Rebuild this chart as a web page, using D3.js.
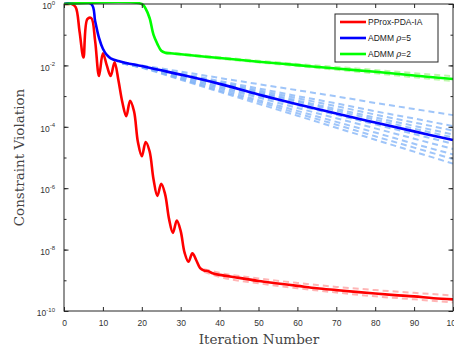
<!DOCTYPE html>
<html><head><meta charset="utf-8">
<script src="https://cdn.jsdelivr.net/npm/d3@7"></script>
<style>body{margin:0;background:#fff}svg{display:block}</style>
</head><body>
<script>
// ---- data ----
const xTicks = [0,10,20,30,40,50,60,70,80,90,100];
const yTickExps = [0,-2,-4,-6,-8,-10];
const seriesNames = ["PProx-PDA-IA","ADMM \u03c1=5","ADMM \u03c1=2"];

const redIter = [0,1,2,3,4,5,6,7,8,9,10,11,12,13,14,15,16,17,18,19,20,21,22,23,24,25,26,27,28,29,30,31,32,33,34,35,36,37,38,40,45,50,55,60,65,70,75,80,85,90,95,100];
const redVal = [1,1,1,0.79,0.126,1.8e-2,0.32,0.35,6.3e-2,4.5e-3,2.5e-2,1e-2,4.5e-3,1.26e-2,3.2e-3,6.3e-4,2.2e-4,7e-4,3.2e-4,3.2e-5,1.1e-5,3.2e-5,1.6e-5,2e-6,5.6e-7,1.4e-6,6.3e-7,1e-7,3.5e-8,8.9e-8,4e-8,7.9e-9,4e-9,7.6e-9,4.5e-9,2.5e-9,2.1e-9,2e-9,1.74e-9,1.5e-9,1.2e-9,9.5e-10,7.9e-10,6.6e-10,5.5e-10,4.8e-10,4.2e-10,3.7e-10,3.3e-10,3e-10,2.6e-10,2.4e-10];

const redRunIter = [36,40,50,60,70,80,90,100];
const redRunUpper = [2.3e-9,1.75e-9,1.15e-9,8.2e-10,6.1e-10,4.8e-10,3.9e-10,3.2e-10];
const redRunLower = [1.9e-9,1.3e-9,8.0e-10,5.5e-10,4.0e-10,3.0e-10,2.4e-10,1.9e-10];

const blueIter = [0,7,8,9,10,11,12,14,16,20,25,30,40,50,60,70,80,90,100];
const blueVal = [1,1,0.28,7.9e-2,3.5e-2,2.2e-2,1.7e-2,1.38e-2,1.2e-2,9.5e-3,6.9e-3,5e-3,2.5e-3,1.12e-3,5.4e-4,2.7e-4,1.38e-4,7.1e-5,3.7e-5];

const blueRunIter = [15,20,30,40,50,60,70,80,90,100];
const blueRun1 = [1.26e-2,1.0e-2,6.3e-3,3.9e-3,2.45e-3,1.55e-3,9.8e-4,6.0e-4,3.8e-4,2.4e-4];
const blueRun2 = [1.26e-2,9.5e-3,5.5e-3,3.1e-3,1.78e-3,1.0e-3,5.8e-4,3.2e-4,1.86e-4,1.05e-4];
const blueRun3 = [1.23e-2,9.3e-3,5.1e-3,2.8e-3,1.55e-3,8.5e-4,4.7e-4,2.5e-4,1.38e-4,7.6e-5];
const blueRun4 = [1.23e-2,9.3e-3,4.9e-3,2.6e-3,1.38e-3,7.2e-4,3.8e-4,2.0e-4,1.07e-4,5.6e-5];
const blueRun5 = [1.2e-2,9.1e-3,4.7e-3,2.4e-3,1.26e-3,6.5e-4,3.3e-4,1.7e-4,8.7e-5,4.5e-5];
const blueRun6 = [1.2e-2,8.9e-3,4.4e-3,2.1e-3,1.02e-3,5.0e-4,2.45e-4,1.2e-4,5.8e-5,2.8e-5];
const blueRun7 = [1.17e-2,8.9e-3,4.1e-3,1.9e-3,8.9e-4,4.1e-4,1.9e-4,8.9e-5,4.1e-5,1.9e-5];
const blueRun8 = [1.17e-2,8.7e-3,3.8e-3,1.7e-3,7.4e-4,3.3e-4,1.45e-4,6.5e-5,2.8e-5,1.26e-5];
const blueRun9 = [1.17e-2,8.5e-3,3.6e-3,1.5e-3,6.5e-4,2.75e-4,1.17e-4,4.9e-5,2.1e-5,8.9e-6];
const blueRun10 = [1.15e-2,8.3e-3,3.4e-3,1.38e-3,5.6e-4,2.3e-4,9.3e-5,3.8e-5,1.55e-5,6.3e-6];

const greenIter = [0,20,21,22,23,24,25,26,28,30,40,50,60,70,80,90,100];
const greenVal = [1,1,0.7,0.35,0.1,5e-2,3.0e-2,2.6e-2,2.45e-2,2.3e-2,1.74e-2,1.32e-2,1.02e-2,7.9e-3,6.2e-3,4.7e-3,3.6e-3];

const greenRunIter = [26,40,50,60,70,80,90,100];
const greenRunUpper = [2.7e-2,1.85e-2,1.42e-2,1.12e-2,8.9e-3,7.1e-3,5.6e-3,4.4e-3];
const greenRunLower = [2.5e-2,1.66e-2,1.25e-2,9.5e-3,7.2e-3,5.5e-3,4.1e-3,3.1e-3];

// ---- chart ----
const W = 454, H = 348;
const L = 64, R = 453, T = 4, B = 311;
const axisColor = "#262626";
const svg = d3.select("body").append("svg").attr("width", W).attr("height", H);

const x = d3.scaleLinear().domain([0,100]).range([L,R]);
const y = d3.scaleLog().domain([1e-10,1]).range([B,T]);

svg.append("rect").attr("x",L).attr("y",T).attr("width",R-L).attr("height",B-T).attr("fill","#fff");

svg.append("defs").append("clipPath").attr("id","clip")
  .append("rect").attr("x",L).attr("y",T-2).attr("width",R-L+1).attr("height",B-T+2);

const g = svg.append("g").attr("clip-path","url(#clip)");
const zip = (xs, ys) => xs.map((d,i)=>[d, ys[i]]);
const line = d3.line().x(d=>x(d[0])).y(d=>y(d[1])).curve(d3.curveCatmullRom.alpha(0.5));
const sline = d3.line().x(d=>x(d[0])).y(d=>y(d[1])).curve(d3.curveMonotoneX);

const blueRuns = [blueRun1,blueRun2,blueRun3,blueRun4,blueRun5,blueRun6,blueRun7,blueRun8,blueRun9,blueRun10];
const faint = (arr, iters, color) => {
  g.append("path").datum(zip(iters, arr)).attr("d", sline)
    .attr("fill","none").attr("stroke",color).attr("stroke-width",2)
    .attr("stroke-dasharray","6,4").attr("opacity",0.75);
};
blueRuns.forEach(r => faint(r, blueRunIter, "#7fb2f7"));
[redRunUpper, redRunLower].forEach(r => faint(r, redRunIter, "#ff9c9c"));
[greenRunUpper, greenRunLower].forEach(r => faint(r, greenRunIter, "#a6f58c"));

const mains = [
  {it: redIter, v: redVal, c: "#ff0000"},
  {it: blueIter, v: blueVal, c: "#0000ff"},
  {it: greenIter, v: greenVal, c: "#00ff00"}
];
mains.forEach(s => {
  g.append("path").datum(zip(s.it, s.v)).attr("d", line)
    .attr("fill","none").attr("stroke", s.c).attr("stroke-width",2.6)
    .attr("stroke-linejoin","round");
});

// ---- axes ----
const xb = svg.append("g").attr("transform",`translate(0,${B})`)
  .call(d3.axisBottom(x).tickValues(xTicks).tickSizeInner(-4).tickSizeOuter(0).tickPadding(9).tickFormat(d3.format("d")));
xb.select(".domain").remove();
xb.selectAll("line").attr("stroke",axisColor);
xb.selectAll("text").attr("font-family","'Liberation Sans', Arial, sans-serif").attr("font-size",8.5).attr("fill","#333");
const xt = svg.append("g").attr("transform",`translate(0,${T})`)
  .call(d3.axisTop(x).tickValues(xTicks).tickSizeInner(-4).tickSizeOuter(0).tickFormat(""));
xt.select(".domain").remove();
xt.selectAll("line").attr("stroke",axisColor);

const minor = y.ticks();
const yl = svg.append("g").attr("transform",`translate(${L},0)`)
  .call(d3.axisLeft(y).tickValues(minor).tickSizeInner(-2.5).tickSizeOuter(0).tickFormat(""));
yl.select(".domain").remove(); yl.selectAll("line").attr("stroke",axisColor);
const yr = svg.append("g").attr("transform",`translate(${R},0)`)
  .call(d3.axisRight(y).tickValues(minor).tickSizeInner(-2.5).tickSizeOuter(0).tickFormat(""));
yr.select(".domain").remove(); yr.selectAll("line").attr("stroke",axisColor);
const majors = yTickExps.map(e => Math.pow(10, e));
const ym = svg.append("g").attr("transform",`translate(${L},0)`)
  .call(d3.axisLeft(y).tickValues(majors).tickSizeInner(-4.5).tickSizeOuter(0).tickPadding(9).tickFormat(""));
ym.select(".domain").remove(); ym.selectAll("line").attr("stroke",axisColor);
ym.selectAll(".tick").each(function(d, i){
  const t = d3.select(this).select("text").text(null)
    .attr("font-family","'Liberation Sans', Arial, sans-serif").attr("font-size",8.5).attr("fill","#333")
    .attr("text-anchor","end").attr("dy","0.55em");
  t.append("tspan").text("10");
  t.append("tspan").attr("font-size",6).attr("dy","-0.75em").text(String(yTickExps[i]));
});
const ymr = svg.append("g").attr("transform",`translate(${R},0)`)
  .call(d3.axisRight(y).tickValues(majors).tickSizeInner(-4.5).tickSizeOuter(0).tickFormat(""));
ymr.select(".domain").remove(); ymr.selectAll("line").attr("stroke",axisColor);

svg.append("rect").attr("x",L).attr("y",T).attr("width",R-L).attr("height",B-T)
  .attr("fill","none").attr("stroke",axisColor).attr("stroke-width",1);

// axis labels
svg.append("text").attr("x",259).attr("y",344).attr("text-anchor","middle")
  .attr("font-family","'DejaVu Serif', 'Liberation Serif', serif").attr("font-size",13.5).attr("fill","#444")
  .text("Iteration Number");
svg.append("text").attr("transform",`translate(24,${(T+B)/2}) rotate(-90)`).attr("text-anchor","middle")
  .attr("font-family","'DejaVu Serif', 'Liberation Serif', serif").attr("font-size",13.5).attr("fill","#444")
  .text("Constraint Violation");

// legend
const lg = svg.append("g");
lg.append("rect").attr("x",335).attr("y",14).attr("width",103).attr("height",48)
  .attr("fill","#fff").attr("stroke",axisColor).attr("stroke-width",1);
const lColors = ["#ff0000","#0000ff","#00ff00"];
seriesNames.forEach((n,i)=>{
  const yy = 22 + i*16;
  lg.append("line").attr("x1",340).attr("x2",366).attr("y1",yy).attr("y2",yy)
    .attr("stroke",lColors[i]).attr("stroke-width",2.6);
  const t = lg.append("text").attr("x",368).attr("y",yy+3).attr("font-family","'Liberation Sans', Arial, sans-serif")
    .attr("font-size",8.5).attr("fill","#222");
  if (n.includes("\u03c1")) {
    const parts = n.split("\u03c1");
    t.append("tspan").text(parts[0]);
    t.append("tspan").attr("font-style","italic").attr("font-family","'DejaVu Serif', serif").text("\u03c1");
    t.append("tspan").text(parts[1]);
  } else t.text(n);
});
</script>
</body></html>
